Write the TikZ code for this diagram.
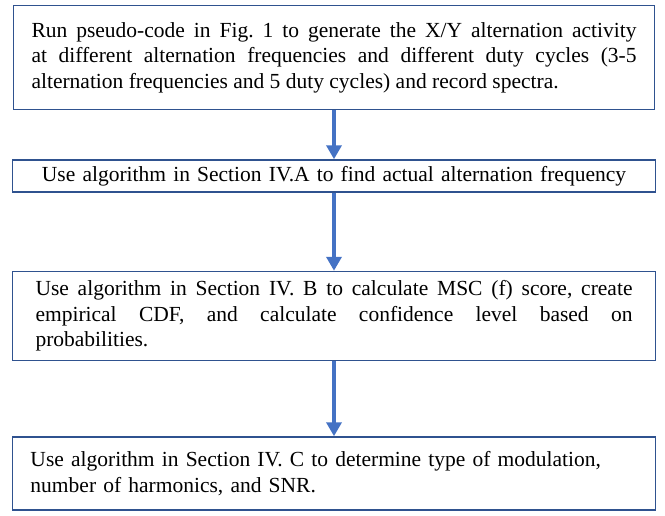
\documentclass[tikz,border=0pt]{standalone}
\usepackage{fontspec}
\setmainfont{Liberation Serif}
\usepackage{xcolor}
\usetikzlibrary{positioning,arrows.meta}
\hyphenpenalty=10000
\tolerance=10000
\frenchspacing
\definecolor{boxblue}{HTML}{2F528F}
\definecolor{arrowblue}{HTML}{4472C4}
\tikzstyle{stepbox} = [rectangle, draw=boxblue, line width=1.5pt, fill=white, inner xsep=18pt, font=\fontsize{21.5}{25.5}\selectfont]
\tikzstyle{arrow} = [line width=4pt, draw=arrowblue, -{Triangle[length=14pt,width=15pt]}]

\begin{document}
\begin{tikzpicture}[node distance=50pt]
\useasboundingbox (0,0) rectangle (665pt,-515pt);
\node (run) [stepbox, text width=605pt, align=justify, minimum height=104pt] at (334pt,-57.5pt) {Run pseudo-code in Fig. 1 to generate the X/Y alternation activity\linebreak at different alternation frequencies and different duty cycles (3-5\linebreak alternation frequencies and 5 duty cycles) and record spectra.};
\node (find) [stepbox, below=49pt of run, text width=607pt, align=center, minimum height=32pt] {Use algorithm in Section IV.A to find actual alternation frequency};
\node (msc) [stepbox, below=78pt of find, text width=597pt, inner xsep=23pt, align=justify, minimum height=89pt] {Use algorithm in Section IV. B to calculate MSC (f) score, create\linebreak empirical CDF, and calculate confidence level based on\linebreak probabilities.};
\node (snr) [stepbox, below=75pt of msc, text width=607pt, align=left, minimum height=73pt] {Use algorithm in Section IV. C to determine type of modulation,\\ number of harmonics, and SNR.};

\draw [arrow] (run) -- (find);
\draw [arrow] (find) -- (msc);
\draw [arrow] (msc) -- (snr);
\end{tikzpicture}
\end{document}
